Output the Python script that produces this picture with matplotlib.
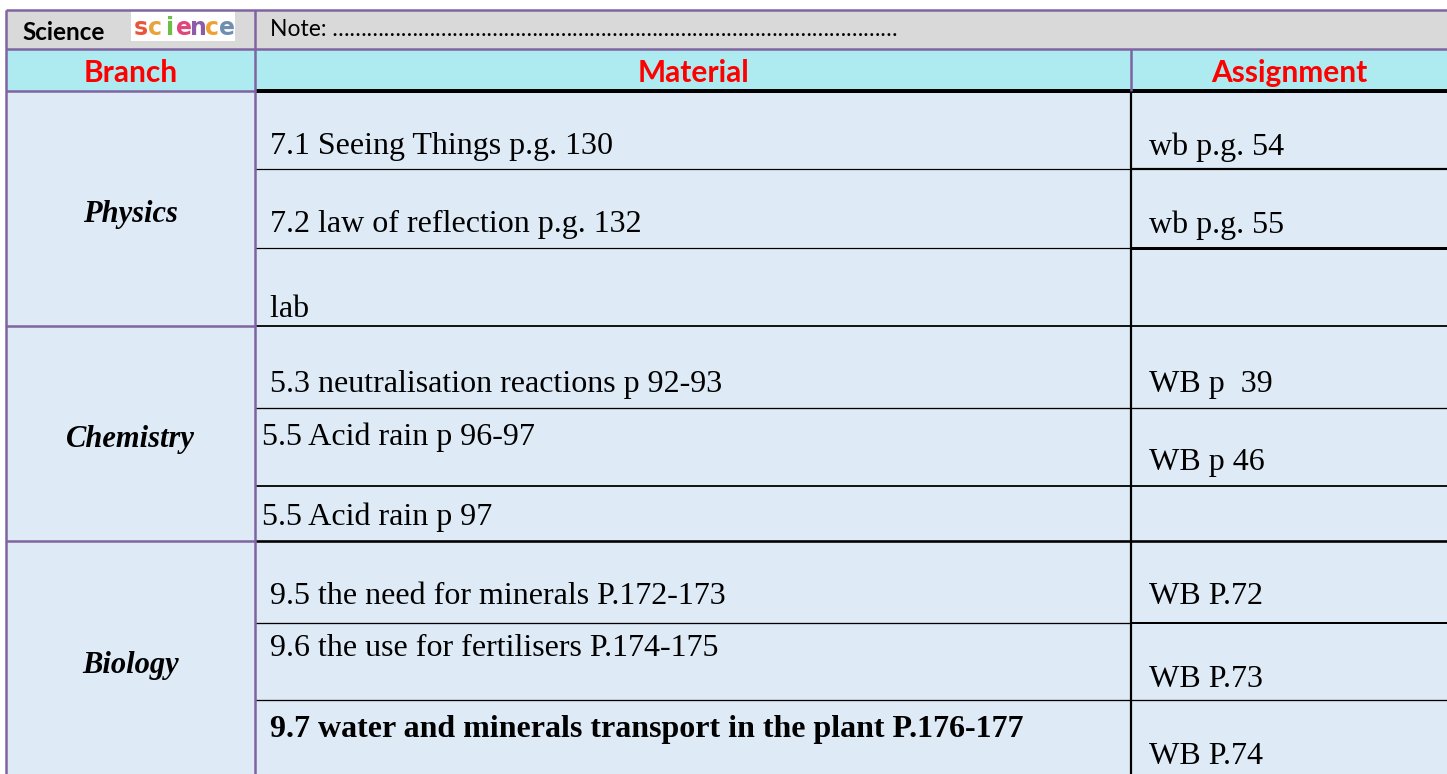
import matplotlib.pyplot as plt
from matplotlib.patches import Rectangle

# table content
header_title = "Science"
note_text = "Note: " + "\u2026" * 33
column_titles = ["Branch", "Material", "Assignment"]
branches = ["Physics", "Chemistry", "Biology"]
materials = [
    " 7.1 Seeing Things p.g. 130",
    " 7.2 law of reflection p.g. 132",
    " lab",
    " 5.3 neutralisation reactions p 92-93",
    "5.5 Acid rain p 96-97",
    "5.5 Acid rain p 97",
    " 9.5 the need for minerals P.172-173",
    " 9.6 the use for fertilisers P.174-175",
    " 9.7 water and minerals transport in the plant P.176-177",
]
assignments = ["wb p.g. 54", "wb p.g. 55", "", "WB p  39", "WB p 46", "",
               "WB P.72", "WB P.73", "WB P.74"]
bold_rows = [8]

# layout (pixels)
W, H = 1447, 774
x_left, x_c1, x_c2, x_right = 6, 255, 1131, 1447
y_top, y_h1, y_h2 = 10, 49, 91
row_edges = [91, 169, 248, 326, 408, 486, 541, 623, 700, 774]
branch_edges = [91, 326, 541, 774]
branch_baselines = [222, 447, 673]
material_baselines = [154, 232, 317, 392, 445, 525, 604, 656, 737]
assign_baselines = [155, 233, None, 392, 470, None, 604, 687, 764]
# (line width material col, line width assignment col) for inner row lines
row_line_w = [(1.2, 2.2), (1.2, 3.0), (1.8, 1.8), (1.3, 1.3), (1.8, 1.8),
              (2.6, 2.6), (1.3, 2.0), (1.3, 1.3)]

purple = "#8064A2"
body_bg = "#DEEAF6"
gray_bg = "#D9D9D9"
cyan_bg = "#AEEBF0"
serif = "Liberation Serif"
sans = "Lato"

fig = plt.figure(figsize=(W / 100, H / 100), dpi=100)
ax = fig.add_axes([0, 0, 1, 1])
ax.set_xlim(0, W)
ax.set_ylim(H, 0)
ax.axis("off")


def lw(px):
    return px * 72 / 100


# backgrounds
ax.add_patch(Rectangle((x_left, y_top), x_right - x_left, y_h1 - y_top, color=gray_bg, lw=0))
ax.add_patch(Rectangle((x_left, y_h1), x_right - x_left, y_h2 - y_h1, color=cyan_bg, lw=0))
ax.add_patch(Rectangle((x_left, y_h2), x_right - x_left, H - y_h2, color=body_bg, lw=0))

# header texts
ax.text(22, 40, header_title, fontsize=17.5, fontweight="bold", family=sans, va="baseline")
ax.add_patch(Rectangle((131, 11), 104, 30, color="white", lw=0, zorder=2))
logo_cols = ["#E8553A", "#E8A33A", "#6DBE45", "#E0457B", "#8E5BA8", "#F0A030", "#6F8FB0"]
for i, (ch, c) in enumerate(zip("science", logo_cols)):
    ax.text(141 + i * 14.3, 35, ch, fontsize=17, fontweight="bold", color=c,
            family="DejaVu Sans", ha="center", va="baseline", zorder=3)
ax.text(270, 36, note_text, fontsize=16.5, family=sans, va="baseline")

col_centers = [(x_left + x_c1) / 2, (x_c1 + x_c2) / 2, (x_c2 + x_right) / 2]
for cx, t in zip(col_centers, column_titles):
    ax.text(cx, 82, t, fontsize=21.5, fontweight="bold", color="red", family=sans,
            ha="center", va="baseline")

# branch labels
for b, yb in zip(branches, branch_baselines):
    ax.text(col_centers[0], yb, b, fontsize=22, fontweight="bold", style="italic",
            family=serif, ha="center", va="baseline")

# materials and assignments
for i, (m, a) in enumerate(zip(materials, assignments)):
    wt = "bold" if i in bold_rows else "normal"
    ax.text(262, material_baselines[i], m, fontsize=23, fontweight=wt, family=serif,
            va="baseline")
    if a:
        ax.text(1149, assign_baselines[i], a, fontsize=23, family=serif, va="baseline")

# inner row lines
for yy, (w1, w2) in zip(row_edges[1:-1], row_line_w):
    ax.plot([x_c1, x_c2], [yy, yy], color="black", lw=lw(w1), solid_capstyle="butt")
    ax.plot([x_c2, x_right], [yy, yy], color="black", lw=lw(w2), solid_capstyle="butt")

# thick line below header, assignment divider in body
ax.plot([x_c1, x_right], [y_h2, y_h2], color="black", lw=lw(4), solid_capstyle="butt")
ax.plot([x_c2, x_c2], [y_h2, H], color="black", lw=lw(2.2), solid_capstyle="butt")

# purple grid
for yy in [y_top, y_h1]:
    ax.plot([x_left, x_right], [yy, yy], color=purple, lw=lw(2.5), solid_capstyle="butt")
for yy in branch_edges[:-1]:
    ax.plot([x_left, x_c1], [yy, yy], color=purple, lw=lw(2.5), solid_capstyle="butt")
ax.plot([x_left, x_left], [y_top, H], color=purple, lw=lw(2.5), solid_capstyle="butt")
ax.plot([x_c1, x_c1], [y_top, H], color=purple, lw=lw(2.5), solid_capstyle="butt")
ax.plot([x_c2, x_c2], [y_h1, y_h2], color=purple, lw=lw(2.5), solid_capstyle="butt")

fig.savefig("out.png", dpi=100, facecolor="white")
